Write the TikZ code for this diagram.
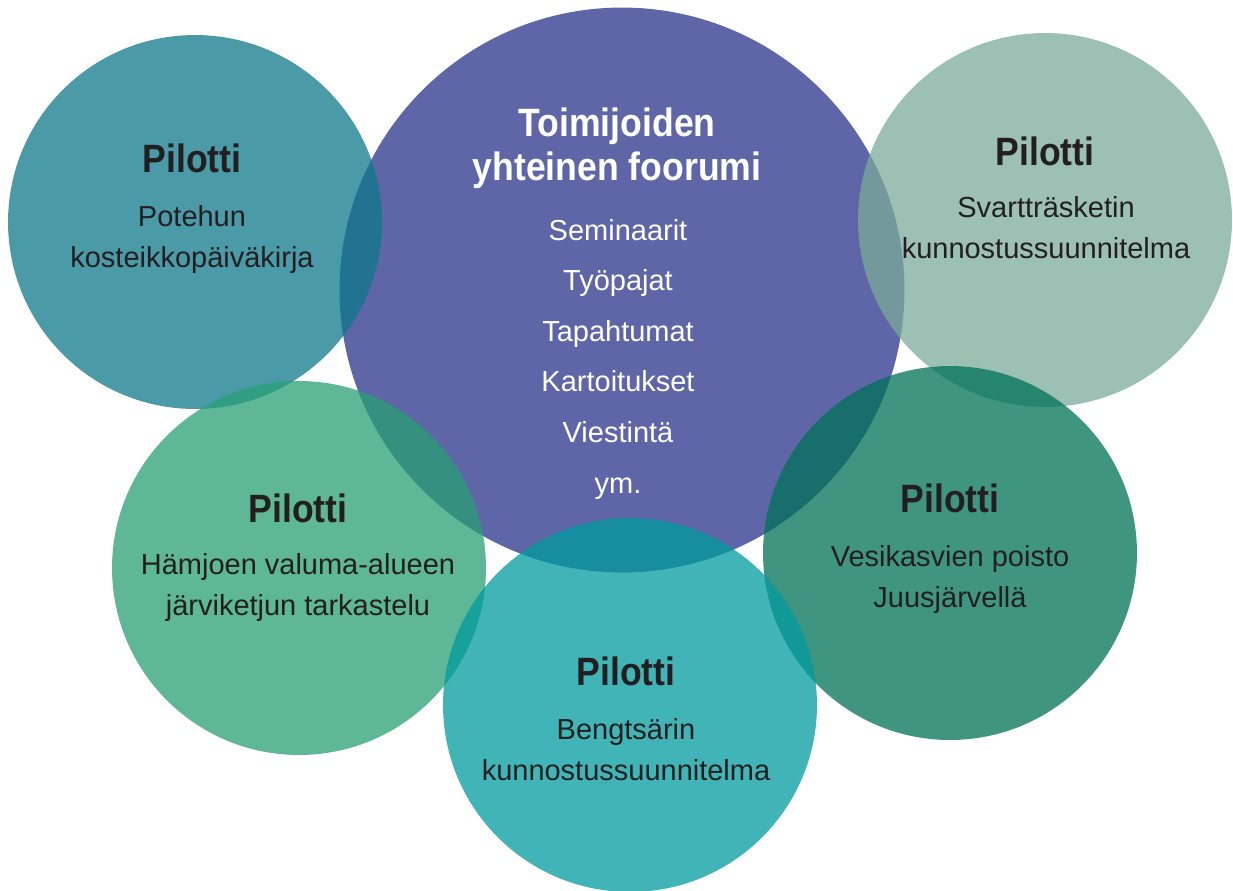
\documentclass[tikz,border=0pt]{standalone}
\usepackage{fontspec}
\setmainfont{Liberation Sans}[BoldFeatures={FakeStretch=0.9}]
\usetikzlibrary{calc}

\definecolor{forumblue}{RGB}{94,102,168}
\definecolor{potehunteal}{RGB}{14,120,139}
\definecolor{svartsage}{RGB}{123,171,154}
\definecolor{hamjoengreen}{RGB}{40,159,115}
\definecolor{bengtsteal}{RGB}{0,155,158}
\definecolor{juusgreen}{RGB}{0,114,87}
\definecolor{inkdark}{RGB}{35,31,32}

\tikzset{
    pilot/.style={circle, inner sep=0pt, minimum size=7.48cm, fill opacity=0.75},
    headline/.style={anchor=base, text=inkdark, font=\bfseries\fontsize{22.5}{24.5}\selectfont},
    detail/.style={anchor=base, align=center, text=inkdark, font=\fontsize{16.5}{23.3}\selectfont},
}

\begin{document}
\begin{tikzpicture}[x=0.02cm, y=-0.02cm]
        % Picture frame in pixels of the original
        \useasboundingbox (0,0) rectangle (1233,890);

        % Forum circle in the middle, solid
        \node[circle, inner sep=0pt, minimum size=11.3cm, fill=forumblue] (forum) at (622,290) {};

        % Pilot circles, see-through
        \node[pilot, fill=potehunteal] (potehun) at (195,222) {};
        \node[pilot, fill=svartsage] (svart) at (1045,220) {};
        \node[pilot, fill=hamjoengreen] (hamjoki) at (299,568) {};
        \node[pilot, fill=juusgreen] (juus) at (950,553) {};
        \node[pilot, fill=bengtsteal] (bengts) at (630,705) {};

        % Forum texts (base = last line)
        \node[headline, align=center, text=white] (forum-title) at (617,180) {Toimijoiden\\yhteinen foorumi};
        \node[detail, text=white, font=\fontsize{16.5}{28.8}\selectfont] (forum-list) at (618,493)
            {Seminaarit\\Työpajat\\Tapahtumat\\Kartoitukset\\Viestintä\\ym.};

        % Pilot texts
        \node[headline] (potehun-title) at (192,172) {Pilotti};
        \node[detail] (potehun-text) at (192,267) {Potehun\\kosteikkopäiväkirja};

        \node[headline] (svart-title) at (1045,165) {Pilotti};
        \node[detail] (svart-text) at (1046,258) {Svartträsketin\\kunnostussuunnitelma};

        \node[headline] (hamjoki-title) at (298,522) {Pilotti};
        \node[detail] (hamjoki-text) at (298,615) {Hämjoen valuma-alueen\\järviketjun tarkastelu};

        \node[headline] (juus-title) at (950,512) {Pilotti};
        \node[detail] (juus-text) at (950,607) {Vesikasvien poisto\\Juusjärvellä};

        \node[headline] (bengts-title) at (626,685) {Pilotti};
        \node[detail] (bengts-text) at (626,780) {Bengtsärin\\kunnostussuunnitelma};

    \end{tikzpicture}
\end{document}
